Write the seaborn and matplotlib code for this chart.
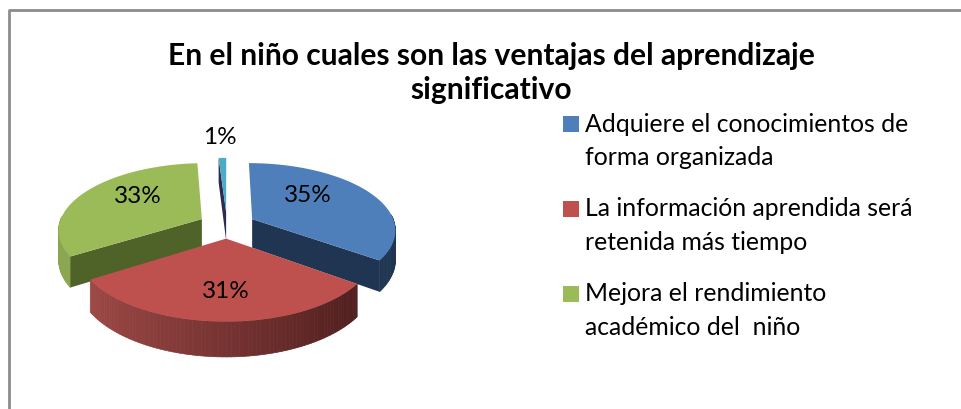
import numpy as np
import seaborn as sns
import matplotlib.pyplot as plt
from matplotlib.colors import to_rgb

porcentajes = [35, 31, 33, 1]
leyenda = ['Adquiere el conocimientos de\nforma organizada',
           'La información aprendida será\nretenida más tiempo',
           'Mejora el rendimiento\nacadémico del  niño']
titulo = 'En el niño cuales son las ventajas del aprendizaje\nsignificativo'

colores_top = ['#4f7fbb', '#be504d', '#9bbb59', '#4bacc6']
colores_cara = ['#1f3551', '#4a1a1a', '#4f6228', '#2e2a50']

sns.set_theme(style='white')
plt.rcParams['font.family'] = ['Lato', 'DejaVu Sans']

# proyeccion de la tarta a pixeles
CX, CY = 227, 226
A, B, K = 143, 66, 0.15
ALTO = 29

def proy(x, y, caida=0):
    x = np.asarray(x, dtype=float)
    y = np.asarray(y, dtype=float)
    w = 1 + K * y
    return CX + A * x / w, 410 - CY + (B * y - caida) / w

fig = plt.figure(figsize=(9.61, 4.10), dpi=100)
ax = fig.add_axes([0, 0, 1, 1])

wedges, _ = ax.pie(porcentajes, explode=[0.2] * 4, startangle=90, counterclock=False)
ax.set_aspect('auto')
ax.set_xlim(0, 961)
ax.set_ylim(0, 410)
ax.axis('off')

datos = []
for w in wedges:
    th = np.radians(np.linspace(w.theta1, w.theta2, 80))
    cx, cy = w.center
    datos.append((th, cx + np.cos(th), cy + np.sin(th), cx, cy))
    w.remove()

def cara_radial(xe, ye, cx, cy, color, z):
    xs = [cx, xe, xe, cx]
    ys = [cy, ye, ye, cy]
    c = [0, 0, ALTO, ALTO]
    px, py = zip(*[proy(a, b, d) for a, b, d in zip(xs, ys, c)])
    ax.fill(px, py, color=color, lw=0, zorder=z)

def borde(th, x, y, color_izq, color_der, z):
    # lado exterior por tramos para hacer el degradado
    izq = np.array(to_rgb(color_izq))
    der = np.array(to_rgb(color_der))
    for i in range(len(th) - 1):
        if np.sin(th[i]) > 0.05:
            continue
        xx = [x[i], x[i + 1], x[i + 1], x[i]]
        yy = [y[i], y[i + 1], y[i + 1], y[i]]
        c = [0, 0, ALTO, ALTO]
        px, py = zip(*[proy(a, b, d) for a, b, d in zip(xx, yy, c)])
        t = (np.cos(th[i]) + 1) / 2
        col = izq + (der - izq) * t
        ax.fill(px, py, color=col, ec=col, lw=0.5, zorder=z)

# orden de atras hacia delante: 1%, azul, verde, rojo
# las cuñas vienen con theta1 < theta2, asi que el corte de abajo del azul es x[0]
orden = [3, 0, 2, 1]
for z, i in enumerate(orden):
    th, x, y, cx, cy = datos[i]
    base = z * 3 + 1
    if i == 0:
        borde(th, x, y, colores_cara[0], colores_cara[0], base)
        cara_radial(x[0], y[0], cx, cy, colores_cara[0], base + 1)
    elif i == 1:
        borde(th, x, y, '#a44c49', '#471a1a', base)
    elif i == 2:
        borde(th, x, y, '#8aa64e', '#8aa64e', base)
        cara_radial(x[-1], y[-1], cx, cy, colores_cara[2], base + 1)
    else:
        cara_radial(x[-1], y[-1], cx, cy, colores_cara[3], base)
    qx, qy = proy(np.r_[cx, x], np.r_[cy, y])
    ax.fill(qx, qy, color=colores_top[i], lw=0, zorder=base + 2)

pos_pct = [(308, 196), (226, 292), (138, 197), (220, 138)]
for v, (tx, ty) in zip(porcentajes, pos_pct):
    ax.text(tx, 410 - ty, f'{v}%', ha='center', va='center', fontsize=17.5, color='black', zorder=30)

ax.text(491, 410 - 73, titulo, ha='center', va='center', fontsize=21.6, fontweight='bold',
        color='black', linespacing=1.27, zorder=30)

for i, txt in enumerate(leyenda):
    yy = 124.5 + i * 85
    ax.scatter([570.5], [410 - yy], marker='s', s=117, color=colores_top[i], linewidths=0, zorder=30)
    ax.text(585, 410 - yy + 12, txt, ha='left', va='top', fontsize=17.8, color='black',
            linespacing=1.55, zorder=30)

# marco
ax.plot([9, 9, 961], [0, 410 - 11, 410 - 11], color='#8c8c8c', lw=2, zorder=0)

fig.savefig('out.png', dpi=100)
